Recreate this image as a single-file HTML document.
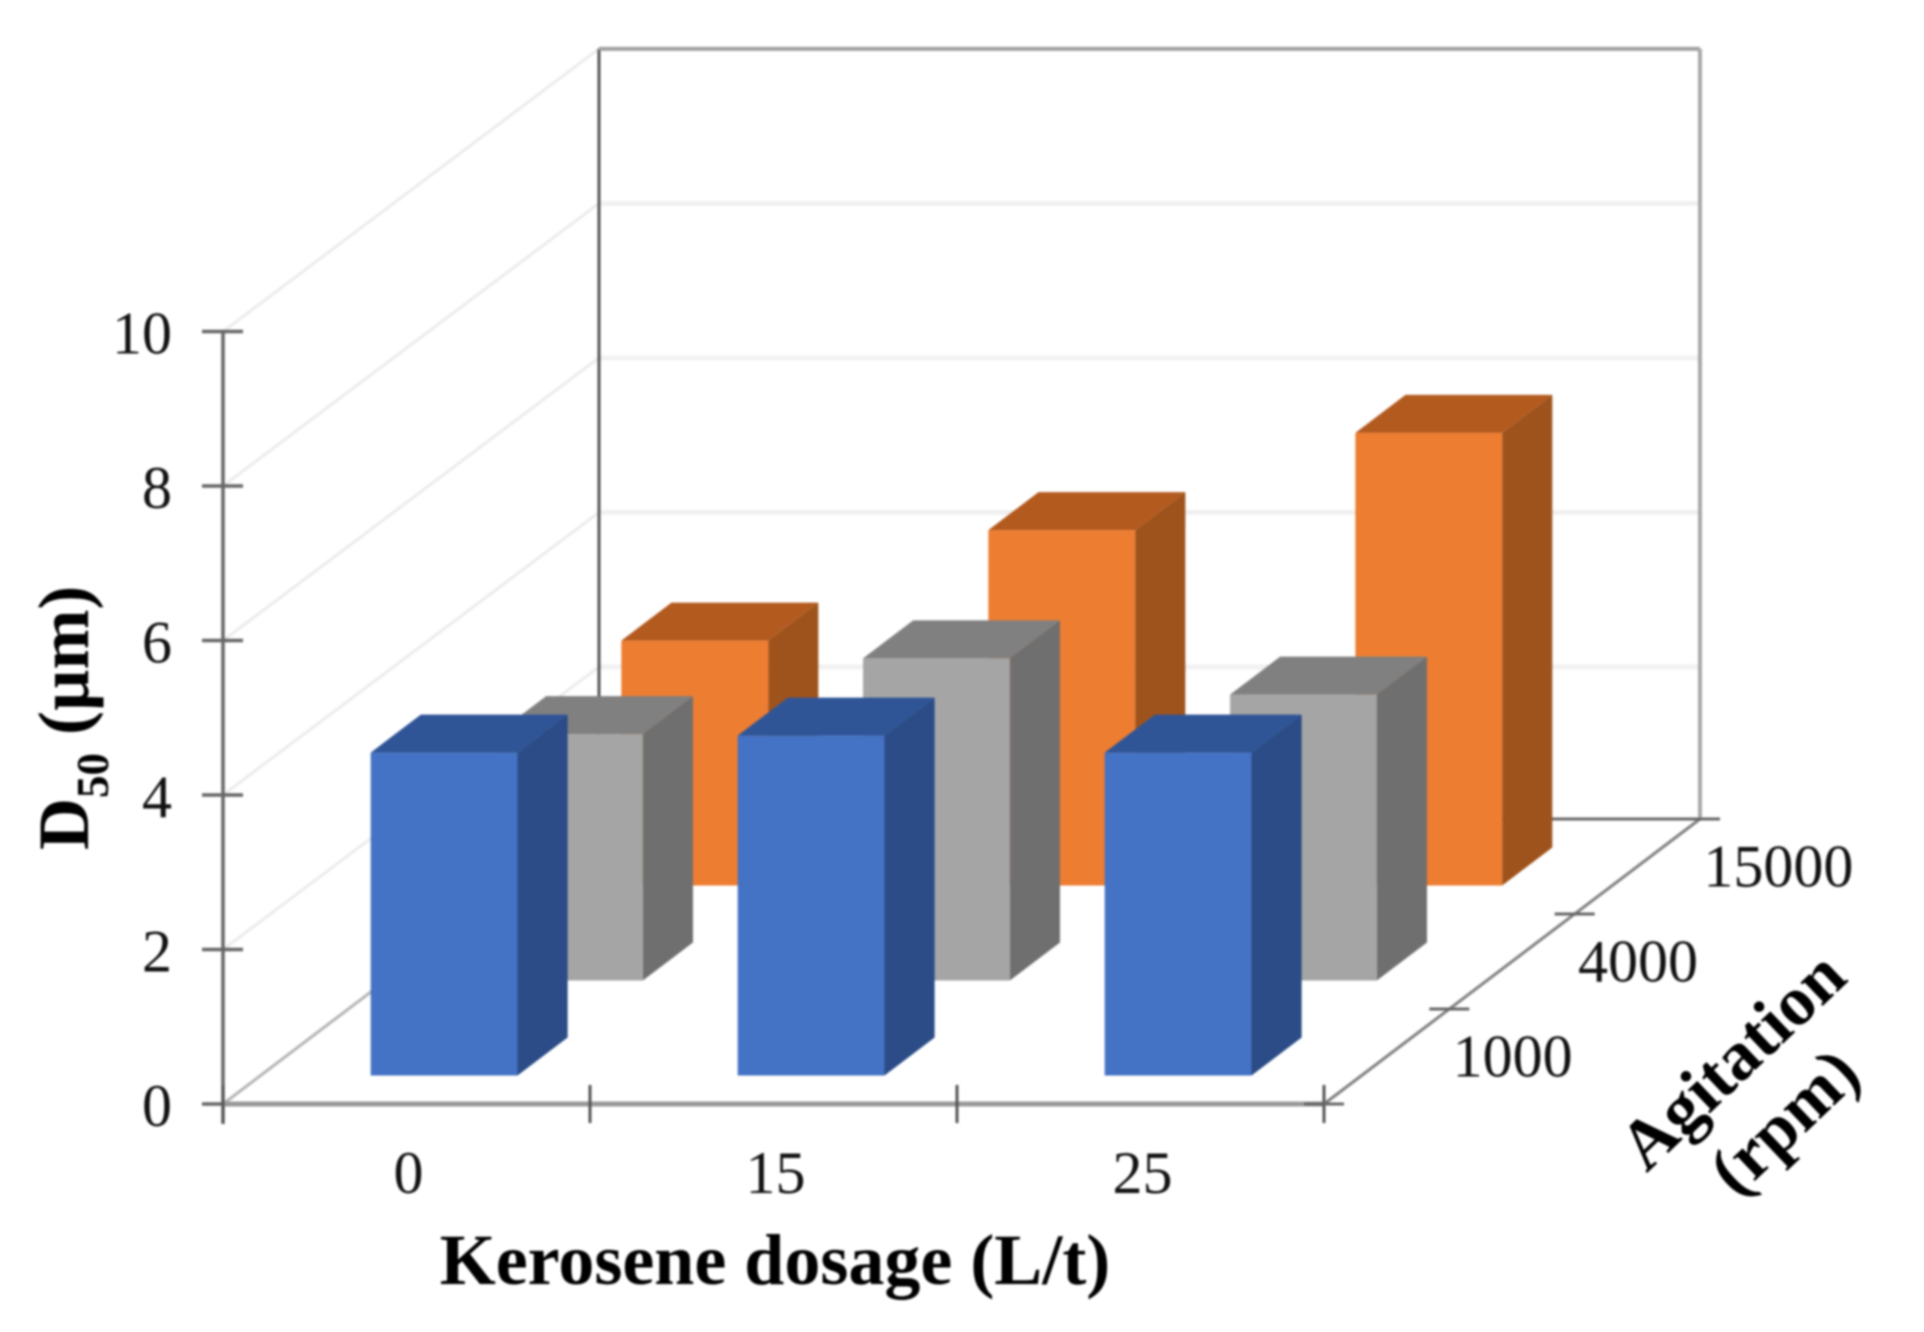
<!DOCTYPE html>
<html lang="en">
<head>
<meta charset="utf-8">
<title>D50 by kerosene dosage and agitation</title>
<style>
  html, body { margin: 0; padding: 0; background: #fff; }
  svg { display: block; filter: blur(1px); }
  text { font-family: "Liberation Serif", serif; fill: #111; }
  .tick { font-size: 60px; }
  .title { font-size: 72px; font-weight: bold; fill: #000; }
</style>
</head>
<body>
<svg id="chart" xmlns="http://www.w3.org/2000/svg" width="1924" height="1332" viewBox="0 0 1924 1332">
  <rect width="1924" height="1332" fill="#ffffff"/>
  <g id="walls"></g>
  <g id="bars"></g>
  <g id="axes"></g>
  <text class="title" x="775" y="1284" text-anchor="middle">Kerosene dosage (L/t)</text>
  <text class="title" transform="translate(88 850) rotate(-90)">D<tspan font-size="45" dy="20">50</tspan><tspan dy="-20"> (µm)</tspan></text>
  <text class="title" style="font-size:70px" transform="translate(1748 1077) rotate(-43.6)" text-anchor="middle">Agitation</text>
  <text class="title" style="font-size:70px" transform="translate(1800 1138) rotate(-43.6)" text-anchor="middle">(rpm)</text>
</svg>
<script>
const dosageCategories = ['0', '15', '25'];
const agitationCategories = ['1000', '4000', '15000'];
const valueTicks = [0, 2, 4, 6, 8, 10];
const values1000 = [4.18, 4.40, 4.18];
const values4000 = [3.19, 4.17, 3.70];
const values15000 = [3.17, 4.60, 5.86];
const seriesValues = [values1000, values4000, values15000];

const SVGNS = 'http://www.w3.org/2000/svg';
const seriesColors = [
  { front: '#4472c4', side: '#2b4c87', top: '#2f5597' },
  { front: '#a5a5a5', side: '#6f6f6f', top: '#808080' },
  { front: '#ed7d31', side: '#9f531c', top: '#b35a1f' }
];
const valueMax = 10;
const wallDrop = 0.03;

// Oblique projection: u = dosage position, z = agitation position, v = value.
function sx(u, z) { return 223 + u * (1101 / dosageCategories.length) + z * (376 / agitationCategories.length); }
function sy(z, v) { return 1104 - z * (285 / agitationCategories.length) - v * (772.5 / valueMax); }
function pts(list) { return list.map(function (p) { return sx(p[0], p[1]) + ',' + sy(p[1], p[2]); }).join(' '); }

function make(tag, attrs, parent) {
  const node = document.createElementNS(SVGNS, tag);
  for (const k in attrs) node.setAttribute(k, attrs[k]);
  parent.appendChild(node);
  return node;
}
function seg(parent, u1, z1, v1, u2, z2, v2, stroke, width) {
  return make('line', { x1: sx(u1, z1), y1: sy(z1, v1), x2: sx(u2, z2), y2: sy(z2, v2), stroke: stroke, 'stroke-width': width }, parent);
}

const walls = document.getElementById('walls');
const bars = document.getElementById('bars');
const axes = document.getElementById('axes');
const nU = dosageCategories.length;
const nZ = agitationCategories.length;

// Walls and gridlines
valueTicks.forEach(function (v) {
  if (v > 0) {
    const sideGrid = seg(walls, 0, 0, v, 0, nZ, v - wallDrop, '#ececec', 3);
    
    
  }
  if (v > 0 && v < valueMax) {
    const backGrid = seg(walls, 0, nZ, v - wallDrop, nU, nZ, v - wallDrop, '#f1f1f1', 5);
    
    
  }
});
const floorSide = seg(walls, 0, 0, 0, 0, nZ, 0, '#b5b5b5', 3);


const floorBack = seg(walls, 0, nZ, 0, nU, nZ, 0, '#6a6a6a', 3);


const wallLeft = seg(walls, 0, nZ, 0, 0, nZ, valueMax - wallDrop, '#555555', 3);


const wallTop = seg(walls, 0, nZ, valueMax - wallDrop, nU, nZ, valueMax - wallDrop, '#a0a0a0', 4);


const wallRight = seg(walls, nU, nZ, 0, nU, nZ, valueMax - wallDrop, '#a8a8a8', 4);



// Bars: back series first so nearer ones overlap
const lo = 0.3, hi = 0.7;
for (let s = nZ - 1; s >= 0; s--) {
  for (let c = 0; c < nU; c++) {
    const v = seriesValues[s][c];
    const col = seriesColors[s];
    const g = make('g', {}, bars);
    
    
    const u0 = c + lo, u1 = c + hi, z0 = s + lo, z1 = s + hi;
    const side = make('polygon', { fill: col.side, points: pts([[u1, z0, 0], [u1, z1, 0], [u1, z1, v], [u1, z0, v]]) }, g);
    
    
    const top = make('polygon', { fill: col.top, points: pts([[u0, z0, v], [u1, z0, v], [u1, z1, v], [u0, z1, v]]) }, g);
    
    
    const front = make('polygon', { fill: col.front, points: pts([[u0, z0, 0], [u1, z0, 0], [u1, z0, v], [u0, z0, v]]) }, g);
    
    
  }
}

// Value axis
const yAxis = make('line', { x1: sx(0, 0), y1: sy(0, valueMax), x2: sx(0, 0), y2: sy(0, 0) + 20, stroke: '#666666', 'stroke-width': 3.5 }, axes);


valueTicks.forEach(function (v) {
  const t = make('line', { x1: sx(0, 0) - 21, y1: sy(0, v), x2: sx(0, 0) + 20, y2: sy(0, v), stroke: '#666666', 'stroke-width': 3.5 }, axes);
  
  
  const label = make('text', { class: 'tick', x: sx(0, 0) - 51, y: sy(0, v) + 22, 'text-anchor': 'end' }, axes);
  
  
  label.textContent = String(v);
});

// Dosage axis
const xAxis = seg(axes, 0, 0, 0, nU, 0, 0, '#999999', 5);


for (let i = 0; i <= nU; i++) {
  const t = make('line', { x1: sx(i, 0), y1: sy(0, 0) - 19, x2: sx(i, 0), y2: sy(0, 0) + 19, stroke: '#555555', 'stroke-width': 3 }, axes);
  
  
}
dosageCategories.forEach(function (name, i) {
  const label = make('text', { class: 'tick', x: sx(i + 0.5, 0) + 2, y: sy(0, 0) + 89, 'text-anchor': 'middle' }, axes);
  
  
  label.textContent = name;
});

// Agitation axis
const zAxis = seg(axes, nU, 0, 0, nU, nZ, 0, '#808080', 3);


for (let i = 0; i <= nZ; i++) {
  const t = make('line', { x1: sx(nU, i) - 20, y1: sy(i, 0), x2: sx(nU, i) + 20, y2: sy(i, 0), stroke: '#666666', 'stroke-width': 3 }, axes);
  
  
}
agitationCategories.forEach(function (name, i) {
  const label = make('text', { class: 'tick', x: sx(nU, i + 0.5) + 66, y: sy(i + 0.5, 0) + 20 }, axes);
  
  
  label.textContent = name;
});
</script>
</body>
</html>
